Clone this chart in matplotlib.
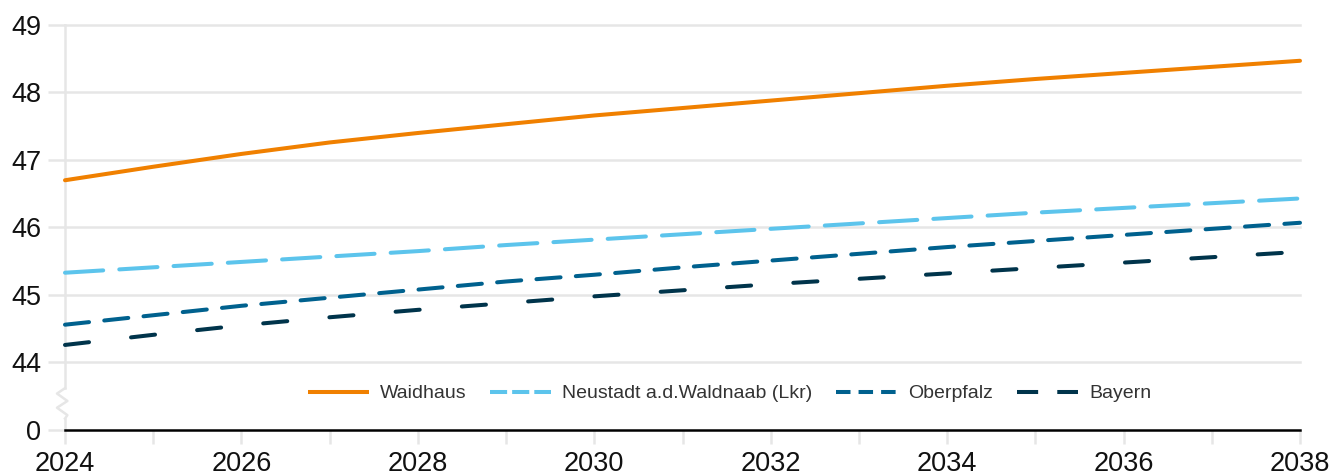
#!/usr/bin/env python3
"""
Durchschnittsalter Prognose - Waidhaus vs. Landkreis, Oberpfalz, Bayern.
"""

import matplotlib
matplotlib.use('Agg')
import matplotlib.pyplot as plt
from matplotlib.lines import Line2D
from matplotlib.transforms import blended_transform_factory

plt.rcParams['font.family'] = ['Liberation Sans', 'DejaVu Sans']

# Data
years = list(range(2024, 2039))
waidhaus = [46.70, 46.90, 47.09, 47.26, 47.40, 47.53, 47.66, 47.77,
            47.88, 47.99, 48.10, 48.20, 48.29, 48.38, 48.47]
neustadt = [45.33, 45.41, 45.49, 45.57, 45.65, 45.74, 45.82, 45.90,
            45.98, 46.06, 46.14, 46.22, 46.29, 46.36, 46.43]
oberpfalz = [44.56, 44.70, 44.84, 44.96, 45.08, 45.20, 45.30, 45.41,
             45.51, 45.61, 45.71, 45.80, 45.89, 45.98, 46.07]
bayern = [44.26, 44.41, 44.55, 44.67, 44.78, 44.88, 44.98, 45.07,
          45.16, 45.24, 45.32, 45.40, 45.48, 45.56, 45.64]

labels = ['Waidhaus', 'Neustadt a.d.Waldnaab (Lkr)', 'Oberpfalz', 'Bayern']

# y axis is broken: the value 0 sits one step below 44
ytick_pos = [43, 44, 45, 46, 47, 48, 49]
ytick_labels = ['0', '44', '45', '46', '47', '48', '49']

colors = {
    'waidhaus': '#F08000',
    'neustadt': '#5CC4EC',
    'oberpfalz': '#00618E',
    'bayern': '#00344B',
    'grid': '#E6E6E6',
}

fig = plt.figure(figsize=(13.35, 4.76), dpi=100)
ax = fig.add_axes([65 / 1335, 46 / 476, 1235 / 1335, 405 / 476])

lw = 2.9
ax.plot(years, waidhaus, color=colors['waidhaus'], lw=lw,
        solid_capstyle='round', clip_on=False, zorder=5)
ax.plot(years, neustadt, color=colors['neustadt'], lw=lw,
        dashes=(9.5, 4.0), dash_capstyle='round', clip_on=False, zorder=4)
ax.plot(years, oberpfalz, color=colors['oberpfalz'], lw=lw,
        dashes=(6.0, 3.8), dash_capstyle='round', clip_on=False, zorder=4)
ax.plot(years, bayern, color=colors['bayern'], lw=lw,
        dashes=(6.0, 10.5), dash_capstyle='round', clip_on=False, zorder=4)

ax.set_xlim(2024, 2038)
ax.set_ylim(43, 49)

# Gridlines
for y in ytick_pos[1:]:
    ax.axhline(y, color=colors['grid'], lw=1.8, zorder=1, clip_on=False)
ax.axhline(43, color='black', lw=1.8, zorder=3, clip_on=False)

# Spines
for s in ax.spines.values():
    s.set_visible(False)

# Left axis line with zigzag break
trans = blended_transform_factory(ax.transAxes, ax.transData)
dx = 8 / 1235
ax.plot([0, 0], [43.62, 49], color=colors['grid'], lw=1.8,
        transform=trans, clip_on=False, zorder=1)
ax.plot([0, 0], [43, 43.17], color=colors['grid'], lw=1.8,
        transform=trans, clip_on=False, zorder=1)
zz_x = [0, -dx, dx * 0.3, -dx, dx * 0.3, 0]
zz_y = [43.62, 43.54, 43.43, 43.33, 43.22, 43.17]
ax.plot(zz_x, zz_y, color=colors['grid'], lw=1.8, transform=trans,
        clip_on=False, zorder=1)

# Ticks
ax.set_yticks(ytick_pos)
ax.set_yticklabels(ytick_labels)
ax.set_xticks(list(range(2024, 2039, 2)))
ax.set_xticks(list(range(2025, 2039, 2)), minor=True)
ax.tick_params(axis='y', length=12, width=1.8, color=colors['grid'],
               pad=5, labelsize=19.5, labelcolor='#111111')
ax.tick_params(axis='x', which='both', length=10, width=1.8,
               color=colors['grid'], pad=5, labelsize=19.5,
               labelcolor='#111111')

# Legend with its own (shorter) dash patterns
handles = [
    Line2D([], [], color=colors['waidhaus'], lw=lw, solid_capstyle='butt'),
    Line2D([], [], color=colors['neustadt'], lw=lw, dashes=(4.25, 1.25),
           dash_capstyle='butt'),
    Line2D([], [], color=colors['oberpfalz'], lw=lw, dashes=(3.6, 2.0),
           dash_capstyle='butt'),
    Line2D([], [], color=colors['bayern'], lw=lw, dashes=(5.25, 4.75),
           dash_capstyle='butt'),
]
ax.legend(handles, labels, loc='center', bbox_to_anchor=(0.538, 0.09),
          ncol=4, frameon=False, fontsize=14, handlelength=3.15,
          handletextpad=0.57, columnspacing=1.2, labelcolor='#333333')

plt.savefig('out.png', dpi=100)
